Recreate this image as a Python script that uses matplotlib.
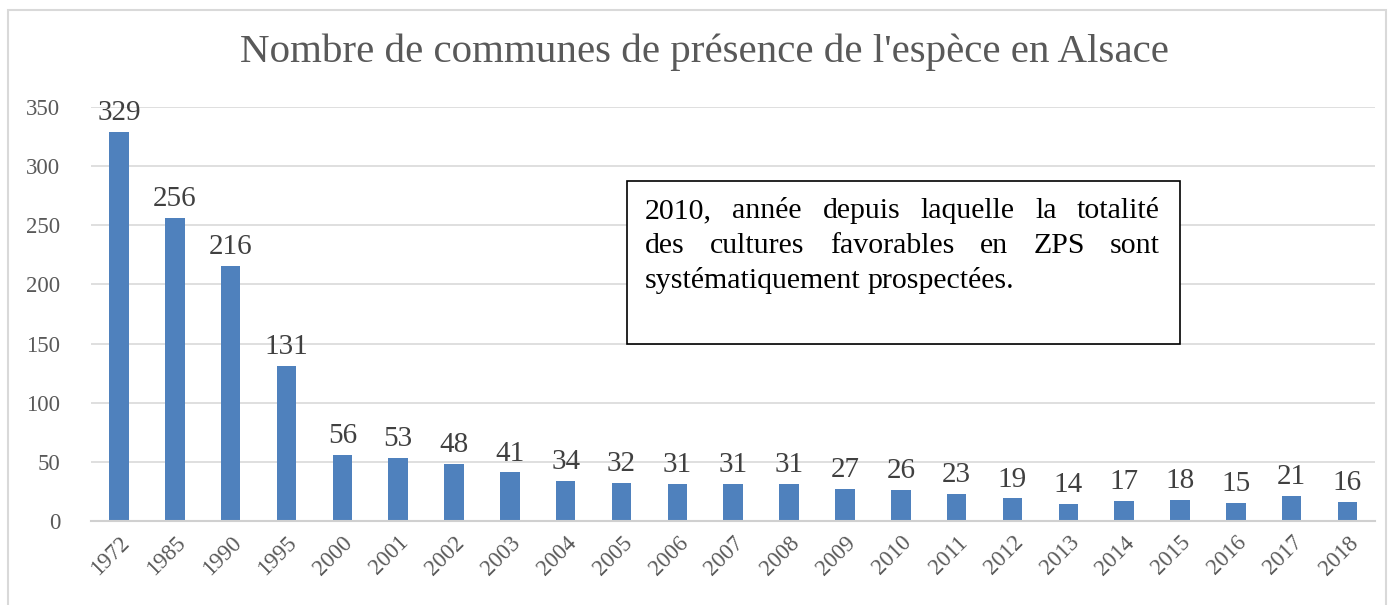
import matplotlib.pyplot as plt
from matplotlib.patches import Rectangle

annees = ["1972", "1985", "1990", "1995", "2000", "2001", "2002", "2003", "2004",
          "2005", "2006", "2007", "2008", "2009", "2010", "2011", "2012", "2013",
          "2014", "2015", "2016", "2017", "2018"]
communes = [329, 256, 216, 131, 56, 53, 48, 41, 34, 32, 31, 31, 31, 27, 26, 23,
            19, 14, 17, 18, 15, 21, 16]
titre = "Nombre de communes de présence de l'espèce en Alsace"
note = [["2010,", "année", "depuis", "laquelle", "la", "totalité"],
        ["des", "cultures", "favorables", "en", "ZPS", "sont"],
        ["systématiquement", "prospectées."]]

plt.rcParams['font.family'] = ['Liberation Serif', 'DejaVu Serif']
gris = "#595959"

fig = plt.figure(figsize=(13.9, 6.05), dpi=100)
ax = fig.add_axes([0.0655, 0.139, 0.924, 0.684])

x = range(len(annees))
ax.bar(x, communes, width=0.35, color="#4f81bd", zorder=2)
for i, v in zip(x, communes):
    ax.text(i, v + 5, str(v), ha="center", va="bottom", fontsize=21, color="#404040")

ax.set_xlim(-0.5, len(annees) - 0.5)
ax.set_ylim(0, 350)
ax.set_yticks(range(0, 351, 50))
ax.set_xticks(list(x))
ax.set_xticklabels(annees, rotation=45, ha="right", rotation_mode="anchor",
                   fontsize=16.5, color=gris)
ax.tick_params(axis="y", labelsize=16.5, labelcolor=gris, length=0, pad=22)
ax.tick_params(axis="x", length=0, pad=8)
ax.grid(axis="y", color="#d9d9d9", linewidth=1.2, zorder=0)
for s in ["top", "right", "left"]:
    ax.spines[s].set_visible(False)
ax.spines["bottom"].set_color("#d0d0d0")
ax.spines["bottom"].set_linewidth(1.5)

fig.text(0.507, 0.913, titre, ha="center", va="center", fontsize=29.5, color=gris)

# cadre exterieur
fig.patches.append(Rectangle((8 / 1390, -0.02), 1378 / 1390, 1 - 10 / 605 + 0.02,
                             transform=fig.transFigure, fill=False,
                             edgecolor="#d9d9d9", linewidth=1.5))

# encadre de la note
bx0, bx1 = 627 / 1390, 1180 / 1390
by0, by1 = 1 - 344 / 605, 1 - 181 / 605
fig.patches.append(Rectangle((bx0, by0), bx1 - bx0, by1 - by0, transform=fig.transFigure,
                             facecolor="white", edgecolor="black", linewidth=1.2, zorder=5))

# texte justifie
fig.canvas.draw()
r = fig.canvas.get_renderer()
gx0, gx1 = 645 / 1390, 1160 / 1390
lignes_y = [1 - 211 / 605, 1 - 246 / 605, 1 - 281 / 605]
for k, mots in enumerate(note):
    txts = [fig.text(0, lignes_y[k], m, fontsize=21.5, color="black", va="center", zorder=6)
            for m in mots]
    larg = [t.get_window_extent(r).width / fig.bbox.width for t in txts]
    if k < len(note) - 1:
        esp = (gx1 - gx0 - sum(larg)) / (len(mots) - 1)
    else:
        esp = 0.005
    pos = gx0
    for t, w in zip(txts, larg):
        t.set_x(pos)
        pos += w + esp

fig.savefig("out.png", dpi=100)
